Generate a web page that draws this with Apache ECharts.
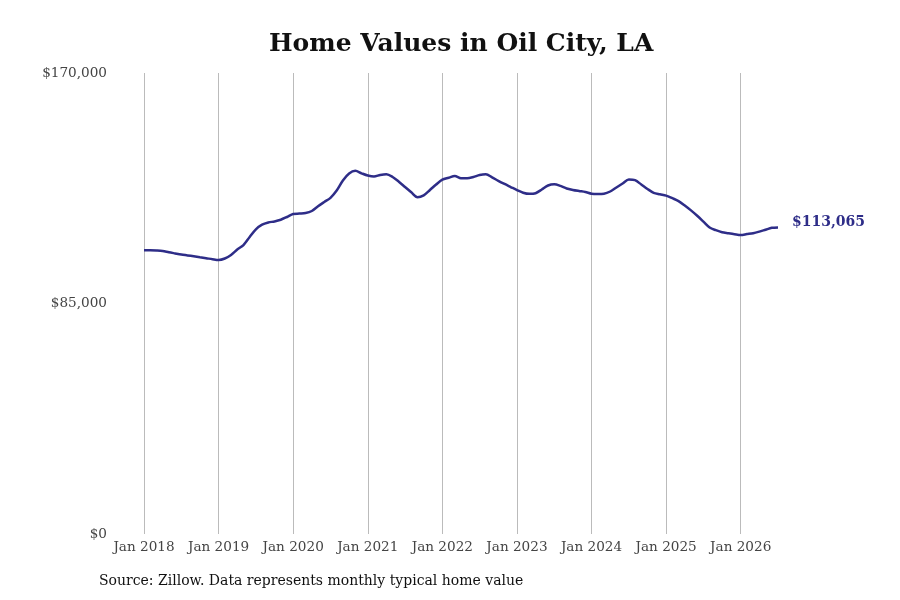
<!DOCTYPE html>
<html>
<head>
<meta charset="utf-8">
<script src="https://cdn.jsdelivr.net/npm/echarts@6/dist/echarts.min.js"></script>
<style>
  html, body { margin: 0; padding: 0; background: #fff; }
  #chart { width: 900px; height: 600px; }
</style>
</head>
<body>
<div id="chart"></div>
<script>
// monthly typical home value, Jan 2018 .. Jul 2026
const startYear = 2018;
const homeValues = [
  104650, 104620, 104540, 104360, 103880, 103470, 103070, 102740, 102400, 102040, 101700, 101340,
  101040, 101590, 102880, 104880, 106570, 109520, 112360, 114060, 114870, 115270, 115900, 116900,
  118000, 118150, 118340, 119110, 120840, 122430, 123980, 126670, 130360, 132940, 133930, 133010,
  132200, 131830, 132390, 132640, 131650, 129910, 127960, 126000, 124200, 124900, 126850, 128880,
  130650, 131350, 132020, 131200, 131170, 131650, 132390, 132640, 131540, 130250, 129070, 127960,
  126850, 125860, 125450, 125670, 127040, 128510, 128960, 128370, 127410, 126890, 126490, 126120,
  125490, 125380, 125490, 126300, 127780, 129250, 130730, 130470, 128880, 127220, 125820, 125270,
  124790, 123830, 122760, 121140, 119330, 117340, 115200, 113030, 112030, 111250, 110890, 110550,
  110260, 110590, 110920, 111510, 112210, 112900, 113065
];
const monthNames = ["Jan","Feb","Mar","Apr","May","Jun","Jul","Aug","Sep","Oct","Nov","Dec"];
const months = homeValues.map((v, i) =>
  monthNames[i % 12] + " " + (startYear + Math.floor(i / 12)));
const yTicks = [0, 85000, 170000];

const fmt = v => "$" + v.toLocaleString("en-US");
const serif = "DejaVu Serif";

const chart = echarts.init(document.getElementById("chart"));
chart.setOption({
  animation: false,
  backgroundColor: "#fff",
  title: {
    text: "Home Values in Oil City, LA",
    left: 264,
    top: 27,
    textStyle: { fontFamily: serif, fontSize: 25, fontWeight: "bold", color: "#111" }
  },
  graphic: [{
    type: "text",
    left: 99,
    top: 574,
    style: {
      text: "Source: Zillow. Data represents monthly typical home value",
      font: "14px 'DejaVu Serif'",
      fill: "#111"
    }
  }],
  grid: { left: 144, right: 122, top: 73, bottom: 66 },
  xAxis: {
    type: "category",
    data: months,
    boundaryGap: false,
    axisLine: { show: false },
    axisTick: { show: false },
    axisLabel: {
      interval: 11,
      fontFamily: serif,
      fontSize: 13.6,
      color: "#444",
      margin: 6
    },
    splitLine: { show: true, interval: 11, lineStyle: { color: "#bbb", width: 1 } }
  },
  yAxis: {
    type: "value",
    min: yTicks[0],
    max: yTicks[yTicks.length - 1],
    interval: yTicks[1] - yTicks[0],
    axisLine: { show: false },
    axisTick: { show: false },
    splitLine: { show: false },
    axisLabel: {
      formatter: fmt,
      fontFamily: serif,
      fontSize: 13.6,
      color: "#444",
      margin: 37,
      padding: [4, 0, 0, 0]
    }
  },
  series: [{
    type: "line",
    data: homeValues,
    smooth: 0.3,
    showSymbol: false,
    lineStyle: { color: "#2e2d88", width: 2.5 },
    endLabel: {
      show: true,
      formatter: p => fmt(p.value),
      fontFamily: serif,
      fontSize: 14,
      fontWeight: "bold",
      color: "#2e2d88",
      distance: 14,
      offset: [0, -5]
    }
  }]
});
</script>
</body>
</html>
